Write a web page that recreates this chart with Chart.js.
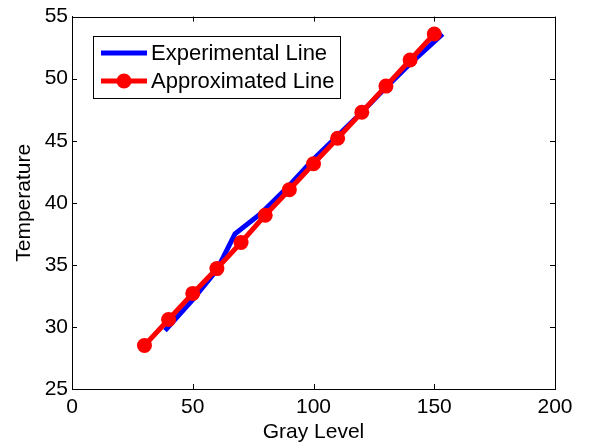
<!DOCTYPE html>
<html>
<head>
<meta charset="utf-8">
<script src="https://cdn.jsdelivr.net/npm/chart.js@4.4.0/dist/chart.umd.min.js"></script>
<style>
  html, body { margin: 0; padding: 0; background: #fff; }
</style>
</head>
<body>
<canvas id="tempChart" width="592" height="445"></canvas>
<script>
// measured curve (blue)
const expGray = [38.5, 50, 60, 67.5, 78, 90, 100, 110, 120, 130, 140, 153.5];
const expTemp = [29.7, 32.2, 34.6, 37.5, 39.1, 41.4, 43.5, 45.4, 47.3, 49.3, 51.2, 53.6];

// fitted line with markers (red)
const approxGray = [30, 40, 50, 60, 70, 80, 90, 100, 110, 120, 130, 140, 150];
const approxTemp = [28.5, 30.6, 32.7, 34.7, 36.8, 39.0, 41.05, 43.15, 45.2, 47.3, 49.4, 51.5, 53.6];

const xTicks = [0, 50, 100, 150, 200];
const yTicks = [25, 30, 35, 40, 45, 50, 55];

const FONT = "'Liberation Sans', Arial, sans-serif";

function toPoints(xs, ys) {
    return xs.map((x, i) => ({ x: x, y: ys[i] }));
}

// box around the plot, inward ticks and the legend box
const matlabFrame = {
    id: 'matlabFrame',
    afterDatasetsDraw(chart) {
        const ctx = chart.ctx;
        const a = chart.chartArea;
        const sx = chart.scales.x;
        const sy = chart.scales.y;
        const len = 5;

        ctx.save();
        ctx.strokeStyle = '#000';
        ctx.lineWidth = 1;
        ctx.beginPath();
        ctx.rect(Math.round(a.left) + 0.5, Math.round(a.top) + 0.5,
                 Math.round(a.right - a.left), Math.round(a.bottom - a.top));
        ctx.stroke();

        ctx.beginPath();
        xTicks.forEach(v => {
            const px = Math.round(sx.getPixelForValue(v)) + 0.5;
            ctx.moveTo(px, a.bottom); ctx.lineTo(px, a.bottom - len);
            ctx.moveTo(px, a.top); ctx.lineTo(px, a.top + len);
        });
        yTicks.forEach(v => {
            const py = Math.round(sy.getPixelForValue(v)) + 0.5;
            ctx.moveTo(a.left, py); ctx.lineTo(a.left + len, py);
            ctx.moveTo(a.right, py); ctx.lineTo(a.right - len, py);
        });
        ctx.stroke();

        // legend
        const lx = 93, ly = 36, lw = 247, lh = 62;
        ctx.fillStyle = '#fff';
        ctx.fillRect(lx, ly, lw, lh);
        ctx.strokeRect(lx + 0.5, ly + 0.5, lw, lh);

        ctx.font = '22px ' + FONT;
        ctx.textBaseline = 'middle';
        ctx.textAlign = 'left';
        const rows = [53, 81];
        chart.data.datasets.forEach((ds, i) => {
            const y = rows[i];
            ctx.strokeStyle = ds.borderColor;
            ctx.lineWidth = ds.borderWidth;
            ctx.beginPath();
            ctx.moveTo(101, y); ctx.lineTo(147, y);
            ctx.stroke();
            if (ds.pointRadius > 0) {
                ctx.fillStyle = ds.pointBackgroundColor;
                ctx.beginPath();
                ctx.arc(124, y, ds.pointRadius, 0, Math.PI * 2);
                ctx.fill();
            }
            ctx.fillStyle = '#000';
            ctx.fillText(ds.label, 151, y + 1);
        });
        ctx.restore();
    }
};

const ctx = document.getElementById('tempChart').getContext('2d');
const myChart = new Chart(ctx, {
    type: 'scatter',
    data: {
        datasets: [{
            label: 'Experimental Line',
            data: toPoints(expGray, expTemp),
            showLine: true,
            borderColor: '#0000ff',
            backgroundColor: '#0000ff',
            borderWidth: 5,
            pointRadius: 0,
            pointHoverRadius: 0,
            tension: 0,
            order: 1
        }, {
            label: 'Approximated Line',
            data: toPoints(approxGray, approxTemp),
            showLine: true,
            borderColor: '#ff0000',
            backgroundColor: '#ff0000',
            pointBackgroundColor: '#ff0000',
            pointBorderColor: '#ff0000',
            borderWidth: 5,
            pointRadius: 7.5,
            pointBorderWidth: 0,
            tension: 0,
            order: 0
        }]
    },
    options: {
        responsive: false,
        animation: false,
        devicePixelRatio: 1,
        layout: { padding: { top: 12, right: 37, left: 0, bottom: 0 } },
        plugins: {
            legend: { display: false },
            tooltip: { enabled: false }
        },
        scales: {
            x: {
                type: 'linear',
                min: 0,
                max: 200,
                afterBuildTicks: s => { s.ticks = xTicks.map(v => ({ value: v })); },
                afterFit: s => { s.height = 56; },
                grid: { display: false, drawTicks: false },
                border: { display: true, color: '#000', width: 1 },
                ticks: {
                    color: '#000',
                    padding: 6,
                    maxRotation: 0,
                    font: { family: FONT, size: 21 }
                },
                title: {
                    display: true,
                    text: 'Gray Level',
                    color: '#000',
                    padding: { top: 0, bottom: 0 },
                    font: { family: FONT, size: 21 }
                }
            },
            y: {
                type: 'linear',
                min: 25,
                max: 55,
                afterBuildTicks: s => { s.ticks = yTicks.map(v => ({ value: v })); },
                afterFit: s => { s.width = 72; },
                grid: { display: false, drawTicks: false },
                border: { display: true, color: '#000', width: 1 },
                ticks: {
                    color: '#000',
                    padding: 4,
                    font: { family: FONT, size: 21 }
                },
                title: {
                    display: true,
                    text: 'Temperature',
                    color: '#000',
                    padding: { top: 12, bottom: 0 },
                    font: { family: FONT, size: 21 }
                }
            }
        }
    },
    plugins: [matlabFrame]
});
</script>
</body>
</html>
